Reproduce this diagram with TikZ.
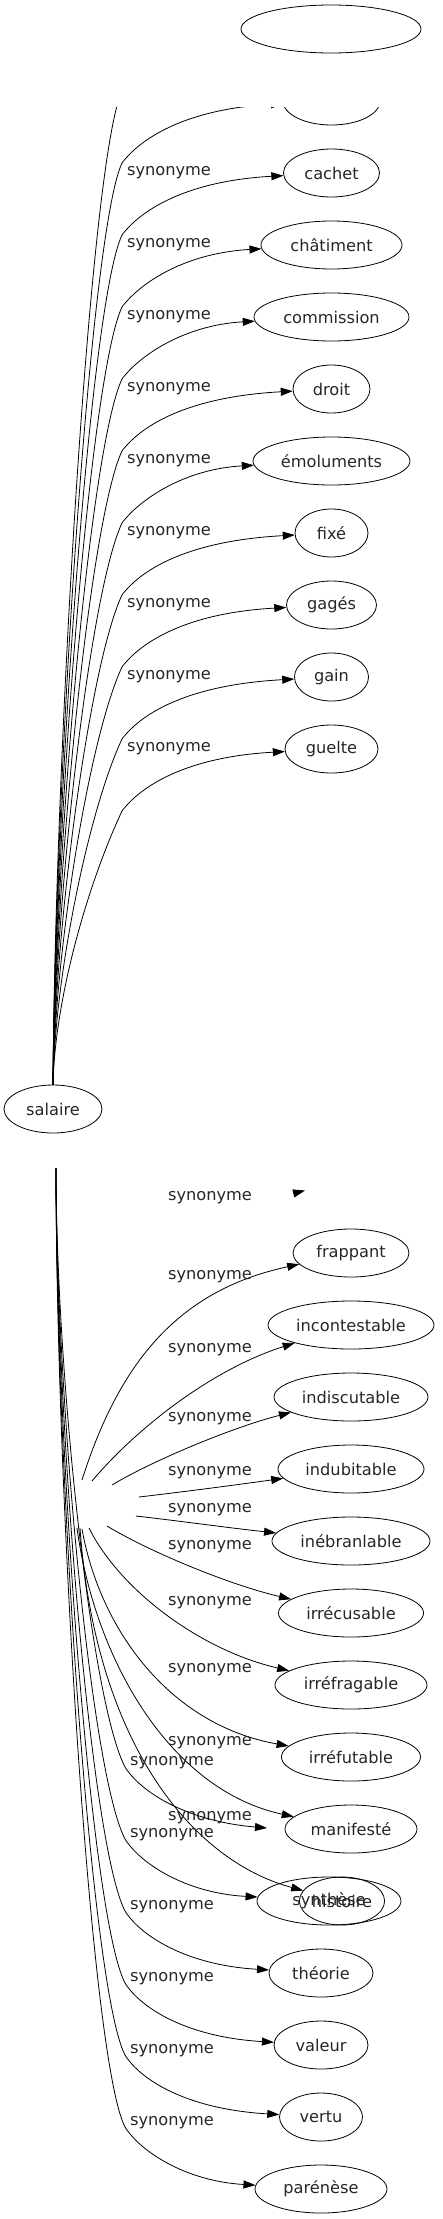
\documentclass[tikz,border=0pt]{standalone}
\usepackage{fontspec}
\setmainfont{DejaVu Sans}
\usetikzlibrary{shapes.geometric,arrows.meta}

\tikzset{
  mot/.style={draw,ellipse,line width=0.8pt,inner sep=0pt,minimum height=48pt,
    text=black!85,font=\fontsize{16.2}{19}\selectfont},
  syn/.style={inner sep=0pt,text=black!85,font=\fontsize{16.2}{19}\selectfont},
  lien/.style={line width=0.8pt,-{Triangle[length=12pt,width=8pt]}}
}

\begin{document}
\begin{tikzpicture}[x=1pt,y=-1pt]
  \useasboundingbox (0,0) rectangle (442,2219);
  \node[mot,minimum width=98pt] (salaire) at (53,1109) {salaire};

  \foreach \nom/\txt/\y/\w in {frag//101/97,cachet/cachet/173/96,chatiment/châtiment/245/141,
      commission/commission/317/155,droit/droit/389/77,emoluments/émoluments/461/157,
      fixe/fixé/533/73,gages/gagés/605/90,gain/gain/677/74,guelte/guelte/749/93}
    \node[mot,minimum width=\w pt] (\nom) at (331.5,\y) {\txt};
  \coordinate (vide-o) at (241,29);

  \foreach \nom/\y in {vide-o/29,frag/101,cachet/173,chatiment/245,commission/317,droit/389,
      emoluments/461,fixe/533,gages/605,gain/677,guelte/749}
  {
    \draw[lien] (salaire.north) .. controls (55,{1085-0.33*(1023-\y)}) and (90,\y+130) .. (122,\y+62)
      .. controls (140,\y+38) and (185,\y+8) .. (\nom);
    \node[syn] (l-\nom) at (169,\y) {synonyme};
  }

  \fill[white] (0,0) rectangle (442,107);
  \node[mot,minimum width=180pt] (vide) at (331,29) {};

  \foreach \nom/\txt/\y/\w in {frappant/frappant/1253/116,incontestable/incontestable/1325/166,
      indiscutable/indiscutable/1397/154,indubitable/indubitable/1469/146,
      inebranlable/inébranlable/1541/158,irrecusable/irrécusable/1613/145,
      irrefragable/irréfragable/1685/152,irrefutable/irréfutable/1757/139,
      manifeste/manifesté/1829/132}
    \node[mot,minimum width=\w pt] (\nom) at (351,\y) {\txt};
  \node[mot,minimum width=84pt] (histoire) at (342,1901) {histoire};
  \node[mot,minimum width=144pt] (synthese) at (329,1901) {synthèse};
  \foreach \nom/\txt/\y/\w in {theorie/théorie/1973/104,valeur/valeur/2045/94,
      vertu/vertu/2117/83,parenese/parénèse/2189/132}
    \node[mot,minimum width=\w pt] (\nom) at (321,\y) {\txt};

  \coordinate (cache1) at (305,1190.5);
  \coordinate (d-cache1) at (293.4,1193.4);
  \draw[lien] (d-cache1) -- (cache1);
  \node[syn] (l-cache1) at (210,1198) {synonyme};

  \foreach \nom/\sx/\sy/\ax/\ay/\bx/\by/\ly in {
      frappant/82/1480/120/1360/180/1290/1277,
      incontestable/92/1481/135/1430/210/1370/1350,
      indiscutable/112/1485/150/1462/230/1428/1419,
      indubitable/139/1497/190/1491/235/1485/1473,
      inebranlable/136/1516/180/1521/230/1528/1510,
      irrecusable/107/1526/150/1552/230/1585/1547,
      irrefragable/89/1528/120/1590/200/1650/1603,
      irrefutable/82/1529/100/1630/170/1725/1670,
      manifeste/77/1528/95/1660/170/1790/1743,
      histoire/80/1528/95/1740/190/1860/1818}
  {
    \coordinate (d-\nom) at (\sx,\sy);
    \draw[lien] (d-\nom) .. controls (\ax,\ay) and (\bx,\by) .. (\nom);
    \node[syn] (l-\nom) at (210,\ly) {synonyme};
  }

  \coordinate (fan) at (56,1168);
  \coordinate (cache2) at (267,1828);
  \foreach \nom/\y in {cache2/1829,synthese/1901,theorie/1973,valeur/2045,vertu/2117,parenese/2189}
  {
    \draw[lien] (fan) .. controls (56,{1168+0.33*(\y-1230)}) and (90,\y-130) .. (125,\y-62)
      .. controls (140,\y-38) and (185,\y-8) .. (\nom);
    \node[syn] (l-\nom) at (172,\y-66) {synonyme};
  }
\end{tikzpicture}
\end{document}
